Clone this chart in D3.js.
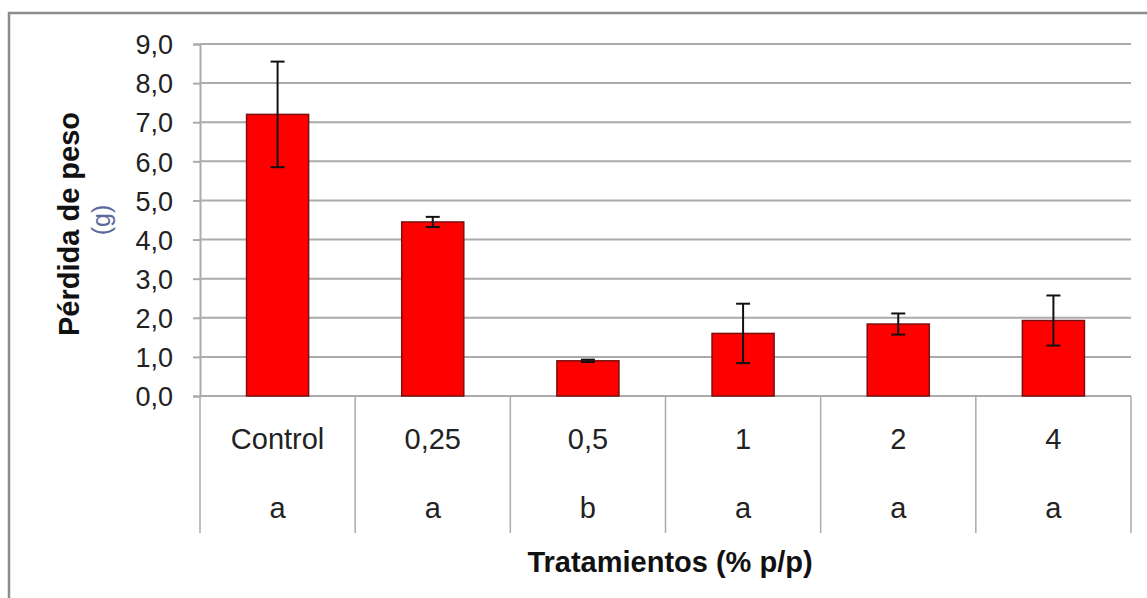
<!DOCTYPE html>
<html lang="es">

<head>
  <meta charset="UTF-8">
  <title>Pérdida de peso</title>
  <style>
    body { margin: 0; background: #fff; }
    text { font-family: "Liberation Sans", Arial, sans-serif; }
  </style>
</head>

<body>
  <svg id="svg" width="1147" height="598"></svg>

  <script src="https://d3js.org/d3.v7.min.js"></script>
  <script>
    const categories = ["Control", "0,25", "0,5", "1", "2", "4"]
    const means = [7.2, 4.45, 0.9, 1.6, 1.84, 1.93]
    const errors = [1.35, 0.13, 0.03, 0.76, 0.27, 0.64]
    const letters = ["a", "a", "b", "a", "a", "a"]
    const yTicks = [0, 1, 2, 3, 4, 5, 6, 7, 8, 9]

    const svg = d3.select("#svg")

    // outer frame (only top and left edges are visible in the picture)
    svg.append("path")
      .attr("d", "M9,598 V13 H1147")
      .attr("fill", "none")
      .attr("stroke", "#8c8c8c")
      .attr("stroke-width", 2.5)

    const plotLeft = 200, plotRight = 1131, plotTop = 44, plotBottom = 396

    const x = d3.scaleBand()
      .domain(categories)
      .range([plotLeft, plotRight])

    const y = d3.scaleLinear()
      .domain([0, 9])
      .range([plotBottom, plotTop])

    // gridlines
    svg.append("g")
      .selectAll("line")
      .data(yTicks)
      .enter()
      .append("line")
      .attr("x1", plotLeft)
      .attr("x2", plotRight)
      .attr("y1", d => y(d))
      .attr("y2", d => y(d))
      .attr("stroke", "#ababab")
      .attr("stroke-width", 2)

    // y axis
    const yAxis = svg.append("g")
      .attr("transform", `translate(${plotLeft},0)`)
      .call(d3.axisLeft(y).tickValues(yTicks).tickSize(7).tickPadding(20)
        .tickFormat(d => d3.format(".1f")(d).replace(".", ",")))
    yAxis.select(".domain").attr("stroke", "#ababab").attr("stroke-width", 2)
    yAxis.selectAll(".tick line").attr("stroke", "#ababab").attr("stroke-width", 2)
    yAxis.selectAll(".tick text")
      .attr("fill", "#222")
      .attr("dy", "0.36em")
      .style("font-size", "27px")
      .style("font-family", "'Liberation Sans', Arial, sans-serif")

    // category separators below the axis
    const seps = categories.map(c => x(c)).concat([plotRight])
    svg.append("g")
      .selectAll("line")
      .data(seps)
      .enter()
      .append("line")
      .attr("x1", d => d)
      .attr("x2", d => d)
      .attr("y1", plotBottom)
      .attr("y2", 533)
      .attr("stroke", "#ababab")
      .attr("stroke-width", 1.5)

    // bars
    const barW = x.bandwidth() * 0.4
    svg.append("g")
      .selectAll("rect")
      .data(means)
      .enter()
      .append("rect")
      .attr("x", (d, i) => x(categories[i]) + (x.bandwidth() - barW) / 2)
      .attr("y", d => y(d))
      .attr("width", barW)
      .attr("height", d => plotBottom - y(d))
      .attr("fill", "#ff0000")
      .attr("stroke", "#7a1010")
      .attr("stroke-width", 1.5)

    // error bars
    const eb = svg.append("g")
      .selectAll("g")
      .data(means)
      .enter()
      .append("g")
      .attr("stroke", "#111")
      .attr("stroke-width", 2)
    const cx = (d, i) => x(categories[i]) + x.bandwidth() / 2
    eb.append("line")
      .attr("x1", cx).attr("x2", cx)
      .attr("y1", (d, i) => y(d + errors[i]))
      .attr("y2", (d, i) => y(d - errors[i]))
    eb.append("line")
      .attr("x1", (d, i) => cx(d, i) - 7).attr("x2", (d, i) => cx(d, i) + 7)
      .attr("y1", (d, i) => y(d + errors[i]))
      .attr("y2", (d, i) => y(d + errors[i]))
    eb.append("line")
      .attr("x1", (d, i) => cx(d, i) - 7).attr("x2", (d, i) => cx(d, i) + 7)
      .attr("y1", (d, i) => y(d - errors[i]))
      .attr("y2", (d, i) => y(d - errors[i]))

    // category labels and letters
    svg.append("g")
      .selectAll("text")
      .data(categories)
      .enter()
      .append("text")
      .attr("x", d => x(d) + x.bandwidth() / 2)
      .attr("y", 449)
      .attr("text-anchor", "middle")
      .attr("fill", "#222")
      .style("font-size", "29px")
      .text(d => d)

    svg.append("g")
      .selectAll("text")
      .data(letters)
      .enter()
      .append("text")
      .attr("x", (d, i) => x(categories[i]) + x.bandwidth() / 2)
      .attr("y", 518)
      .attr("text-anchor", "middle")
      .attr("fill", "#222")
      .style("font-size", "29px")
      .text(d => d)

    // axis titles
    svg.append("text")
      .attr("x", 670)
      .attr("y", 572)
      .attr("text-anchor", "middle")
      .attr("fill", "#111")
      .style("font-size", "29px")
      .style("font-weight", "bold")
      .text("Tratamientos (% p/p)")

    svg.append("text")
      .attr("transform", "translate(79,224) rotate(-90)")
      .attr("text-anchor", "middle")
      .attr("fill", "#111")
      .style("font-size", "29px")
      .style("font-weight", "bold")
      .text("Pérdida de peso")

    svg.append("text")
      .attr("transform", "translate(110,220) rotate(-90)")
      .attr("text-anchor", "middle")
      .attr("fill", "#5a6a9c")
      .style("font-size", "25px")
      .text("(g)")
  </script>
</body>

</html>
